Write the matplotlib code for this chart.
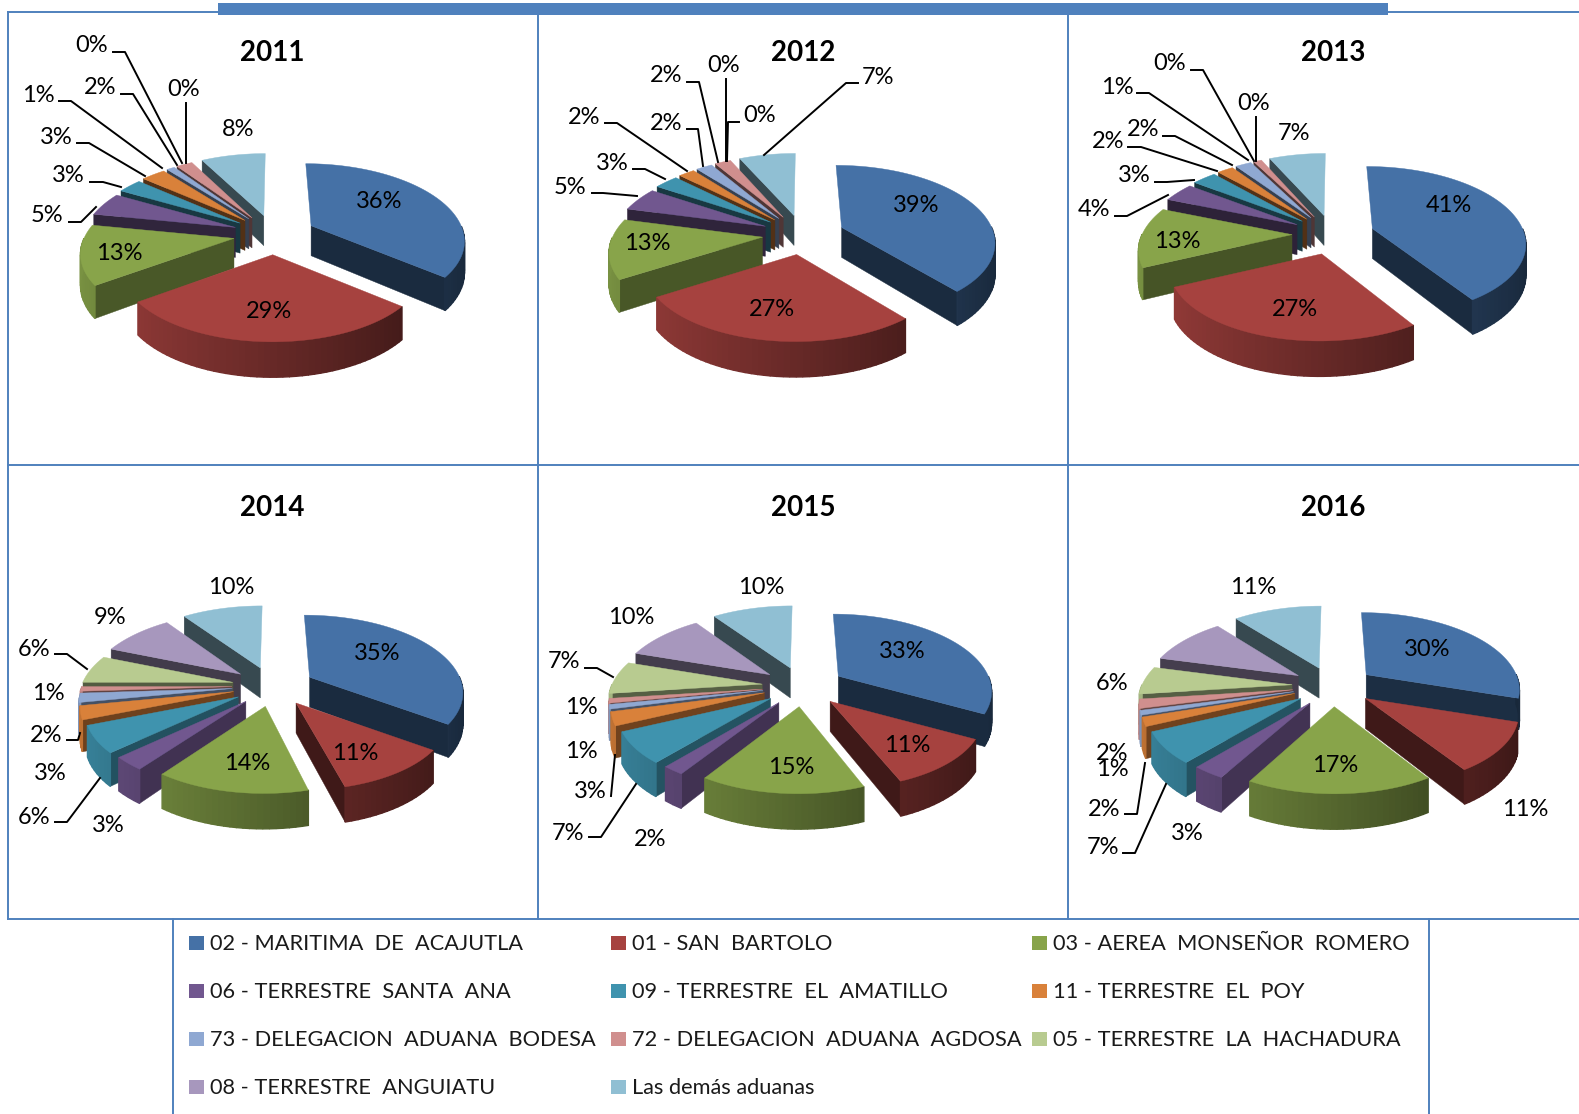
# -*- coding: utf-8 -*-
import numpy as np
import matplotlib
matplotlib.use('Agg')
import matplotlib.pyplot as plt
from matplotlib.colors import to_rgb

plt.rcParams['font.family'] = ['Lato', 'DejaVu Sans']

# customs offices, same order in every pie
aduanas = ['02 - MARITIMA  DE  ACAJUTLA', '01 - SAN  BARTOLO', '03 - AEREA  MONSEÑOR  ROMERO',
           '06 - TERRESTRE  SANTA  ANA', '09 - TERRESTRE  EL  AMATILLO', '11 - TERRESTRE  EL  POY',
           '73 - DELEGACION  ADUANA  BODESA', '72 - DELEGACION  ADUANA  AGDOSA', '05 - TERRESTRE  LA  HACHADURA',
           '08 - TERRESTRE  ANGUIATU', 'Las demás aduanas']
colores = ['#4571A6', '#A6423F', '#88A44A', '#71578F', '#3F93AE', '#D9813A',
           '#8FA8D2', '#D08F8E', '#B8CB90', '#A797BD', '#90BFD3']

years = ['2011', '2012', '2013', '2014', '2015', '2016']
v2011 = [36, 29, 13, 5, 3, 3, 1, 2, 0, 0, 8]
v2012 = [39, 27, 13, 5, 3, 2, 2, 2, 0, 0, 7]
v2013 = [41, 27, 13, 4, 3, 2, 2, 1, 0, 0, 7]
v2014 = [35, 11, 14, 3, 6, 3, 2, 1, 6, 9, 10]
v2015 = [33, 11, 15, 2, 7, 3, 1, 1, 7, 10, 10]
v2016 = [30, 11, 17, 3, 7, 2, 1, 2, 6, 10, 11]
valores = [v2011, v2012, v2013, v2014, v2015, v2016]

# layout, in pixels of the picture
centros = [(274, 234), (803, 234), (1333, 234), (273, 686), (803, 686), (1333, 686)]
titulos_xy = [(272, 53), (803, 53), (1333, 53), (272, 508), (803, 508), (1333, 508)]
pos2011 = [(379, 202), (269, 312), (119, 254), (47, 216), (68, 176), (56, 137), (38, 96), (100, 88), (92, 46), (184, 90), (238, 130)]
pos2012 = [(916, 205), (772, 309), (647, 244), (570, 188), (612, 164), (584, 118), (666, 124), (666, 76), (724, 66), (760, 116), (878, 77)]
pos2013 = [(1449, 205), (1295, 309), (1177, 242), (1094, 210), (1134, 176), (1108, 141), (1143, 130), (1117, 88), (1170, 64), (1254, 104), (1294, 134)]
pos2014 = [(377, 654), (355, 753), (247, 764), (108, 826), (34, 817), (50, 773), (46, 735), (48, 694), (34, 649), (110, 618), (231, 588)]
pos2015 = [(902, 652), (907, 745), (791, 767), (650, 839), (568, 833), (590, 791), (581, 751), (581, 707), (564, 662), (631, 618), (761, 588)]
pos2016 = [(1427, 650), (1525, 809), (1335, 766), (1187, 833), (1103, 848), (1104, 809), (1112, 769), (1112, 753), (1112, 684), None, (1253, 588)]
posiciones = [pos2011, pos2012, pos2013, pos2014, pos2015, pos2016]

guias = [
    [(69, 222), (81, 222), (96, 207)], [(90, 182), (103, 182), (121, 187)], [(77, 143), (89, 143), (145, 176)],
    [(59, 101), (71, 101), (162, 168)], [(121, 94), (133, 94), (177, 165)], [(113, 52), (125, 52), (182, 163)],
    [(186, 103), (186, 163)],
    [(592, 193), (603, 193), (637, 196)], [(633, 169), (645, 169), (665, 179)], [(605, 123), (617, 123), (687, 171)],
    [(687, 129), (698, 129), (703, 166)], [(687, 82), (699, 82), (718, 162)], [(726, 79), (726, 161)],
    [(739, 122), (728, 122), (727, 161)], [(858, 83), (846, 83), (764, 155)],
    [(1115, 216), (1127, 216), (1168, 195)], [(1155, 182), (1167, 182), (1194, 180)], [(1128, 147), (1141, 147), (1217, 171)],
    [(1163, 136), (1175, 136), (1232, 165)], [(1137, 93), (1149, 93), (1248, 160)], [(1191, 70), (1203, 70), (1254, 161)],
    [(1256, 117), (1256, 161)],
    [(55, 654), (67, 654), (87, 669)], [(67, 740), (78, 740), (80, 733)], [(55, 822), (67, 822), (100, 778)],
    [(585, 668), (597, 668), (613, 677)], [(611, 796), (615, 755)], [(589, 837), (601, 837), (636, 784)],
    [(1125, 814), (1137, 814), (1145, 763)], [(1123, 853), (1135, 853), (1166, 784)],
]

R = 150
D = 894       # perspective distance
Q = 0.483     # plane squash
E = 41        # explosion
H = 30        # wedge depth
AZUL = '#4F81BD'


def tono(color, f):
    return tuple(min(1, k * f) for k in to_rgb(color))


# one wedge of the fake 3d pie, a is clockwise from 12 o'clock
def wedge3d(ax, c, a0, a1, color):
    mid = (a0 + a1) / 2
    ox, oy = E * np.sin(mid), E * np.cos(mid)
    s0 = D / (D + oy)
    apex_y = c[1] - oy * Q * s0

    # x keeps the explosion inside the perspective, so edges lean to the middle
    def proj(x, y, z):
        s = D / (D + y)
        return c[0] + (ox + x) * s, apex_y - y * Q * s + z * (1 + (s - 1) * 0.9)

    aa = np.linspace(a0, a1, max(3, int(np.degrees(a1 - a0) / 2)))
    px = R * np.sin(aa)
    py = R * np.cos(aa)

    # cut faces, normal pointing to the viewer only
    for ang, signo in ((a0, -1), (a1, 1)):
        nx, ny = signo * np.cos(ang), -signo * np.sin(ang)
        if ny < 0:
            ex, ey = R * np.sin(ang), R * np.cos(ang)
            pts = [proj(0, 0, 0), proj(ex, ey, 0), proj(ex, ey, H), proj(0, 0, H)]
            col = tono(color, np.clip(0.45 + 0.15 * nx, 0.38, 1))
            ax.fill(*zip(*pts), color=col, lw=0.3)

    # outer wall, split so the shade can change along it
    for i in range(len(aa) - 1):
        am = (aa[i] + aa[i + 1]) / 2
        if np.cos(am) < 0:
            pts = [proj(px[i], py[i], 0), proj(px[i + 1], py[i + 1], 0),
                   proj(px[i + 1], py[i + 1], H), proj(px[i], py[i], H)]
            ax.fill(*zip(*pts), color=tono(color, 0.62 - 0.27 * np.sin(am)), lw=1.0)

    tapa = [proj(0, 0, 0)] + [proj(x, y, 0) for x, y in zip(px, py)]
    ax.fill(*zip(*tapa), color=color, lw=0.3)


def pie3d(ax, vals, c):
    vals = np.array(vals, dtype=float)
    bordes = np.concatenate(([0], np.cumsum(vals))) / vals.sum() * 2 * np.pi
    orden = np.argsort(-np.cos((bordes[:-1] + bordes[1:]) / 2))
    for i in orden:
        if vals[i] > 0:
            wedge3d(ax, c, bordes[i], bordes[i + 1], colores[i])


fig = plt.figure(figsize=(15.79, 11.14), dpi=100)
ax = fig.add_axes([0, 0, 1, 1])
ax.set_xlim(0, 1579)
ax.set_ylim(1114, 0)
ax.axis('off')

# frame of the table
for y in (12, 465, 919):
    ax.plot([8, 1579], [y, y], color=AZUL, lw=1.4)
for x in (8, 538, 1068):
    ax.plot([x, x], [12, 919], color=AZUL, lw=1.4)
ax.fill([218, 1388, 1388, 218], [3, 3, 15, 15], color=AZUL, lw=0)
ax.plot([173, 173], [919, 1114], color=AZUL, lw=1.4)
ax.plot([1429, 1429], [919, 1114], color=AZUL, lw=1.4)

for k in range(6):
    pie3d(ax, valores[k], centros[k])
    ax.text(*titulos_xy[k], years[k], fontsize=20, fontweight='bold', ha='center', va='center')
    for val, pos in zip(valores[k], posiciones[k]):
        if pos is not None:
            ax.text(pos[0], pos[1], f'{val}%', fontsize=17, ha='center', va='center')

for g in guias:
    ax.plot(*zip(*g), color='black', lw=1.4)

# legend, three columns
col_x = [189, 611, 1032]
fila_y = [943, 991, 1039, 1087]
for i, nombre in enumerate(aduanas):
    x = col_x[i % 3]
    y = fila_y[i // 3]
    ax.fill([x, x + 15, x + 15, x], [y - 7, y - 7, y + 7, y + 7], color=colores[i], lw=0)
    ax.text(x + 21, y + 1.5, nombre, fontsize=15.7, ha='left', va='center', color='#1a1a1a')

fig.savefig('out.png', dpi=100)
